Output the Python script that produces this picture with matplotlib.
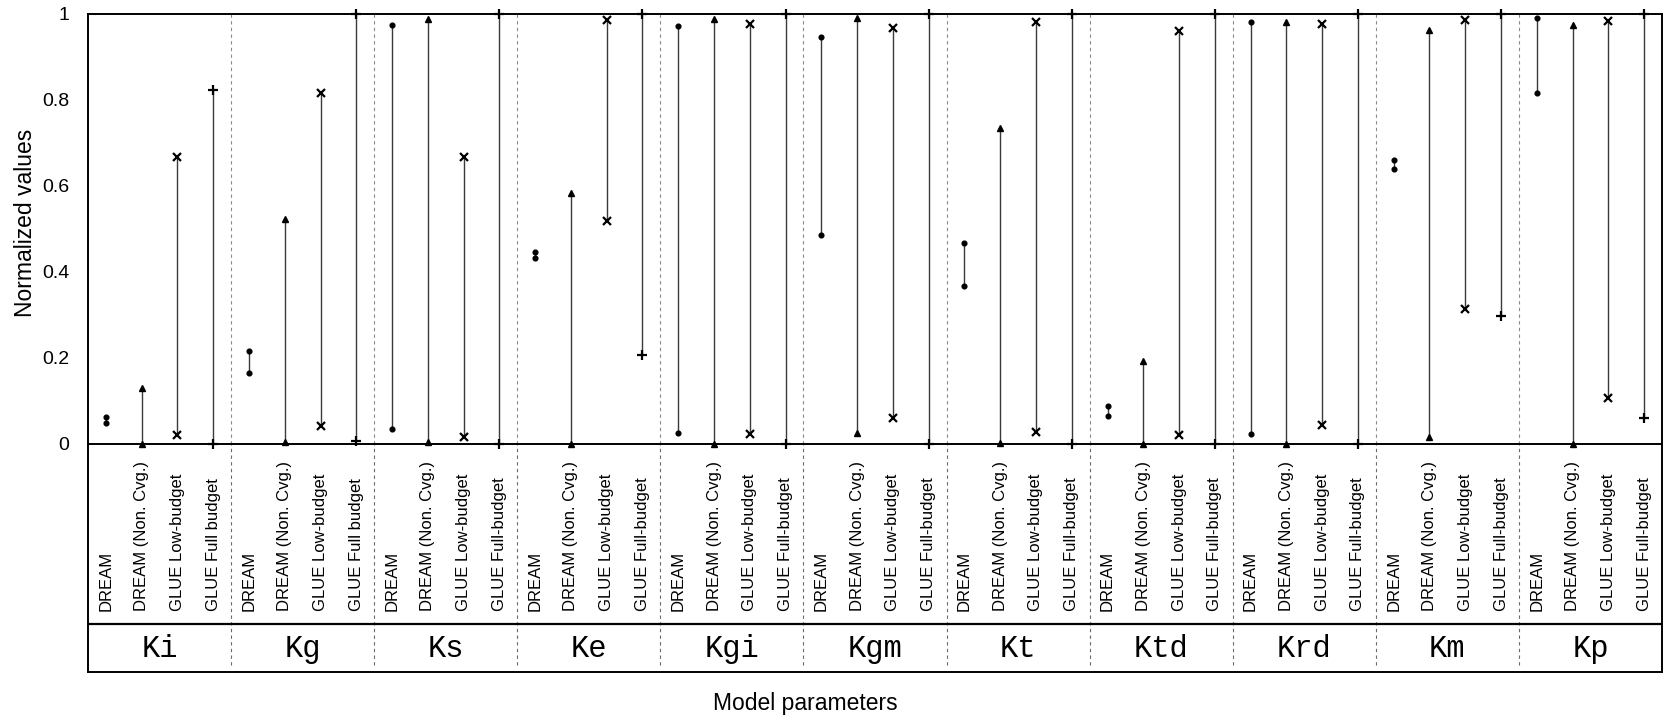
import numpy as np
import matplotlib
matplotlib.use('Agg')
import matplotlib.pyplot as plt

plt.rcParams['font.family'] = ['Liberation Sans', 'DejaVu Sans']

# parameters and methods
params = ['Ki', 'Kg', 'Ks', 'Ke', 'Kgi', 'Kgm', 'Kt', 'Ktd', 'Krd', 'Km', 'Kp']
full_names = ['GLUE Full budget', 'GLUE Full budget'] + ['GLUE Full-budget'] * 9

# normalized ranges (low / high)
dream_lo = [0.047, 0.163, 0.034, 0.432, 0.025, 0.485, 0.366, 0.064, 0.023, 0.639, 0.817]
dream_hi = [0.061, 0.215, 0.975, 0.447, 0.971, 0.946, 0.467, 0.088, 0.981, 0.659, 0.991]
nc_lo = [0.0, 0.003, 0.004, 0.0, 0.0, 0.025, 0.002, 0.0, 0.0, 0.015, 0.0]
nc_hi = [0.129, 0.523, 0.988, 0.583, 0.988, 0.990, 0.734, 0.191, 0.982, 0.963, 0.974]
low_lo = [0.019, 0.040, 0.016, 0.517, 0.023, 0.059, 0.027, 0.019, 0.042, 0.313, 0.105]
low_hi = [0.668, 0.815, 0.668, 0.986, 0.977, 0.967, 0.981, 0.961, 0.977, 0.986, 0.984]
full_lo = [0.0, 0.006, 0.0, 0.207, 0.0, 0.0, 0.0, 0.0, 0.0, 0.298, 0.059]
full_hi = [0.823, 1.0, 1.0, 1.0, 1.0, 1.0, 1.0, 1.0, 1.0, 1.0, 1.0]

W, H = 1663, 719
fig = plt.figure(figsize=(W / 100, H / 100), dpi=100)
axl = fig.add_axes([88 / W, 1 - 672 / H, (1662 - 88) / W, (672 - 443.5) / H])
ax = fig.add_axes([88 / W, 1 - 443.5 / H, (1662 - 88) / W, (443.5 - 14) / H])

ng = len(params)
methods = [
    (dream_lo, dream_hi, 'o', 3.4, 1.0),
    (nc_lo, nc_hi, '^', 4.5, 1.0),
    (low_lo, low_hi, 'x', 5.5, 1.6),
    (full_lo, full_hi, '+', 6.5, 1.6),
]

for m, (lo, hi, mk, ms, mew) in enumerate(methods):
    x = np.arange(ng) * 4 + m + 0.5
    for i in range(ng):
        ax.plot([x[i], x[i]], [lo[i], hi[i]], color='#3a3a3a', lw=1.0, zorder=2)
    ax.plot(x, lo, linestyle='none', marker=mk, ms=ms, mew=mew, color='black',
            clip_on=False, zorder=3)
    ax.plot(x, hi, linestyle='none', marker=mk, ms=ms, mew=mew, color='black',
            clip_on=False, zorder=3)

# group separators
for g in range(1, ng):
    ax.axvline(g * 4, color='#8a8a8a', lw=0.8, ls=(0, (3, 3)), zorder=1)
    axl.plot([g * 4, g * 4], [0.03, 1], color='#6a6a6a', lw=0.8, ls=(0, (3, 3)))

ax.set_xlim(0, ng * 4)
ax.set_ylim(0, 1)
ax.set_xticks([])
ax.set_yticks([0, 0.2, 0.4, 0.6, 0.8, 1])
ax.set_yticklabels(['0', '0.2', '0.4', '0.6', '0.8', '1'])
ax.tick_params(axis='y', length=0, pad=13.5, labelsize=14)
for s in ax.spines.values():
    s.set_linewidth(1.4)
ax.set_ylabel('Normalized values', fontsize=16.5)
ax.yaxis.set_label_coords(-0.0326, 0.513)

# label panel
axl.set_xlim(0, ng * 4)
axl.set_ylim(0, 1)
axl.set_xticks([])
axl.set_yticks([])
for s in axl.spines.values():
    s.set_linewidth(1.4)
axl.spines['top'].set_visible(False)
axl.axhline(0.21, color='black', lw=1.6)
for g in range(ng):
    names = ['DREAM', 'DREAM (Non. Cvg.)', 'GLUE Low-budget', full_names[g]]
    for m, nm in enumerate(names):
        axl.text(g * 4 + m + 0.5, 0.267, nm, rotation=90, ha='center', va='bottom',
                 fontsize=12)
    axl.text(g * 4 + 2, 0.064, params[g], ha='center', va='baseline',
             fontsize=22, family='Liberation Mono')

fig.text(805.5 / W, 1 - 710 / H, 'Model parameters', ha='center', va='baseline',
         fontsize=16.5)

fig.savefig('out.png', dpi=100)
